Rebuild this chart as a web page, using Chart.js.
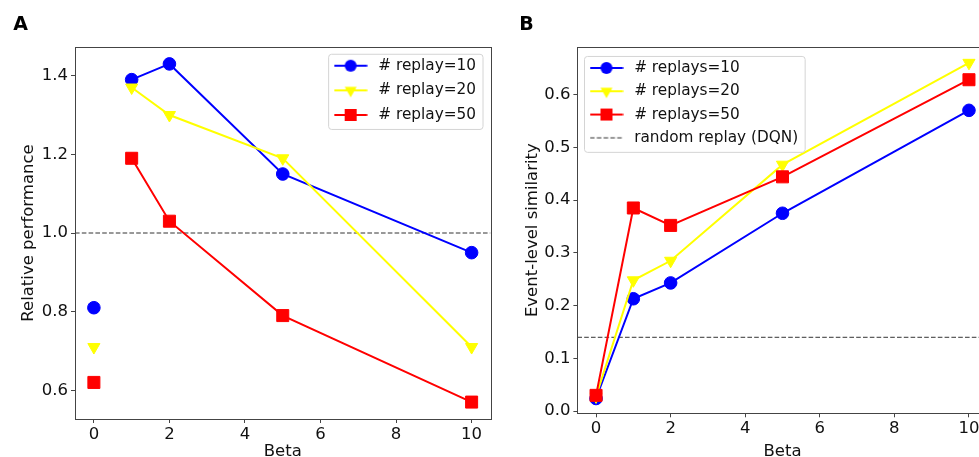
<!DOCTYPE html>
<html>
<head>
<meta charset="utf-8">
<script src="https://cdn.jsdelivr.net/npm/chart.js@4.4.1/dist/chart.umd.min.js"></script>
<style>
  html, body { margin: 0; padding: 0; background: #fff; overflow: hidden; width: 979px; height: 457px; }
  canvas { position: absolute; top: 0; }
  #chartA { left: 0; }
  #chartB { left: 490px; }
</style>
</head>
<body>
<canvas id="chartA" width="500" height="470"></canvas>
<canvas id="chartB" width="520" height="470"></canvas>
<script>
// beta values shared by both panels
const betas = [0, 1, 2, 5, 10];
const betaTicks = [0, 2, 4, 6, 8, 10];

// panel A: relative performance
const perfReplay10 = [0.81, 1.39, 1.43, 1.15, 0.95];
const perfReplay20 = [0.71, 1.37, 1.30, 1.19, 0.71];
const perfReplay50 = [0.62, 1.19, 1.03, 0.79, 0.57];
const perfBaseline = 1.0;
const perfTicks = [0.6, 0.8, 1.0, 1.2, 1.4];
// in panel A the beta = 0 points stand alone, lines start at beta = 1
const joinFromA = 1;

// panel B: event-level similarity
const simReplays10 = [0.024, 0.213, 0.243, 0.375, 0.57];
const simReplays20 = [0.028, 0.248, 0.285, 0.467, 0.66];
const simReplays50 = [0.030, 0.385, 0.352, 0.444, 0.628];
const simRandomDQN = 0.14;
const simTicks = [0.0, 0.1, 0.2, 0.3, 0.4, 0.5, 0.6];

// axis limits
const betaRange = [-0.5, 10.5];
const perfRange = [0.527, 1.473];
const simRange = [-0.004, 0.69];

const BLUE = '#0000ff', YELLOW = '#ffff00', RED = '#ff0000', DASH = '#333333';
const FONT = 'DejaVu Sans';

Chart.defaults.font.family = FONT;
Chart.defaults.color = '#111';

const MARKERS = {
  circle:   { style: 'circle',   radius: 6.3, rotation: 0 },
  triangle: { style: 'triangle', radius: 7,   rotation: 180 },
  square:   { style: 'rect',     radius: 8.5, rotation: 0 },
};

// small line + marker picture for the legend (matplotlib style handle)
function legendIcon(color, marker, dashed) {
  const c = document.createElement('canvas');
  c.width = 34; c.height = 16;
  const g = c.getContext('2d');
  g.strokeStyle = color;
  g.fillStyle = color;
  g.lineWidth = dashed ? 1 : 2;
  if (dashed) g.setLineDash([4.6, 2.2]);
  g.beginPath(); g.moveTo(0.5, 8); g.lineTo(33.5, 8); g.stroke();
  g.setLineDash([]);
  g.beginPath();
  if (marker === 'circle') g.arc(17, 8, 6, 0, Math.PI * 2);
  else if (marker === 'triangle') { g.moveTo(11, 4.5); g.lineTo(23, 4.5); g.lineTo(17, 15); g.closePath(); }
  else if (marker === 'square') g.rect(11, 2, 12, 12);
  if (marker) g.fill();
  return c;
}

function seriesSet(label, ys, color, marker, order, segment) {
  const m = MARKERS[marker];
  return {
    label, order,
    data: betas.map((b, i) => ({ x: b, y: ys[i] })),
    borderColor: color,
    backgroundColor: color,
    borderWidth: 2,
    tension: 0,
    fill: false,
    pointStyle: m.style,
    pointRotation: m.rotation,
    pointRadius: m.radius,
    pointHoverRadius: m.radius,
    pointBorderWidth: 1,
    pointBorderColor: color,
    pointBackgroundColor: color,
    segment,
    legendIcon: legendIcon(color, marker, false),
  };
}

function baselineSet(label, value, inLegend) {
  return {
    label, order: 4,
    data: betaRange.map(b => ({ x: b, y: value })),
    borderColor: DASH,
    borderWidth: 1,
    borderDash: [4.6, 2.2],
    pointRadius: 0,
    pointHoverRadius: 0,
    fill: false,
    legendIcon: inLegend ? legendIcon(DASH, null, true) : null,
  };
}

// moves the chartArea legend to its corner, draws its frame and the axes box
const panelFrame = {
  id: 'panelFrame',
  beforeLayout(chart) {
    const lg = chart.legend;
    if (lg && !lg._lifted) {
      lg._layers = () => [{ z: 1, draw: (area) => lg.draw(area) }];
      lg._lifted = true;
    }
  },
  afterLayout(chart, args, opts) {
    const lg = chart.legend, a = chart.chartArea;
    const pad = lg.options.labels.padding;
    const colW = lg.columnSizes[0].width;
    const itemsX = opts.anchor === 'right' ? a.right - opts.dx - 7 - colW : a.left + opts.dx;
    lg.left = itemsX - pad;
    lg.top = a.top + opts.dy;
  },
  afterDatasetsDraw(chart) {
    const { ctx, chartArea: a } = chart;
    const lg = chart.legend;
    const pad = lg.options.labels.padding;
    const fs = lg.options.labels.font.size;
    const n = lg.legendItems.length;
    const itemsX = lg.left + pad;
    const c0 = lg.top + pad + fs / 2;
    const cN = c0 + (n - 1) * (fs + pad);
    const fx = itemsX - 2, fy = c0 - 11.5;
    const fw = lg.columnSizes[0].width + 9, fh = cN + 14.5 - fy;
    ctx.save();
    ctx.beginPath();
    if (ctx.roundRect) ctx.roundRect(fx, fy, fw, fh, 3); else ctx.rect(fx, fy, fw, fh);
    ctx.fillStyle = 'rgba(255,255,255,0.8)';
    ctx.fill();
    ctx.strokeStyle = '#d4d4d4';
    ctx.lineWidth = 1;
    ctx.stroke();
    ctx.strokeStyle = '#444';
    ctx.strokeRect(Math.round(a.left) + 0.5, Math.round(a.top) + 0.5,
      Math.round(a.right) - Math.round(a.left), Math.round(a.bottom) - Math.round(a.top));
    ctx.restore();
  }
};

function panelOptions(cfg) {
  const tickFont = { size: 16.5 };
  const grid = { display: true, drawOnChartArea: false, drawTicks: true, tickLength: 4, color: '#444' };
  return {
    responsive: false,
    animation: false,
    events: [],
    layout: { padding: cfg.padding },
    plugins: {
      title: {
        display: true, text: cfg.panel, align: 'start', color: '#000',
        font: { size: 19, weight: 'bold', lineHeight: 1 },
        padding: { top: 15.5, bottom: 12.5 }
      },
      legend: {
        position: 'chartArea',
        align: 'start',
        labels: {
          usePointStyle: true,
          pointStyleWidth: 40,
          boxHeight: 15.3,
          padding: cfg.legendPad,
          color: '#111',
          font: { size: 15.3 },
          generateLabels(chart) {
            const items = Chart.defaults.plugins.legend.labels.generateLabels(chart);
            return items
              .filter(it => chart.data.datasets[it.datasetIndex].legendIcon)
              .sort((p, q) => p.datasetIndex - q.datasetIndex)
              .map(it => Object.assign(it, {
                pointStyle: chart.data.datasets[it.datasetIndex].legendIcon,
                rotation: 0
              }));
          }
        }
      },
      tooltip: { enabled: false },
      panelFrame: cfg.legendPlace
    },
    scales: {
      x: {
        type: 'linear',
        min: betaRange[0], max: betaRange[1],
        afterFit: s => { s.height = cfg.xAxisHeight; },
        afterBuildTicks: s => { s.ticks = betaTicks.map(value => ({ value })); },
        ticks: { font: tickFont, color: '#111', padding: 2, maxRotation: 0, callback: v => String(v) },
        grid, border: { display: false },
        title: { display: true, text: 'Beta', color: '#111', font: { size: 16.5, lineHeight: 1 }, padding: { top: 0, bottom: 9.75 } }
      },
      y: {
        type: 'linear',
        min: cfg.yRange[0], max: cfg.yRange[1],
        afterFit: s => { s.width = cfg.yAxisWidth; },
        afterBuildTicks: s => { s.ticks = cfg.yTicks.map(value => ({ value })); },
        ticks: { font: tickFont, color: '#111', padding: 3, callback: v => v.toFixed(1) },
        grid, border: { display: false },
        title: { display: true, text: cfg.yTitle, color: '#111', font: { size: 16.5, lineHeight: 1 }, padding: { top: cfg.yTitlePad, bottom: 0 } }
      }
    }
  };
}

const hideFirstA = { borderColor: c => (c.p0.parsed.x < joinFromA ? 'rgba(0,0,0,0)' : undefined) };

new Chart(document.getElementById('chartA'), {
  type: 'line',
  data: {
    datasets: [
      seriesSet('# replay=10', perfReplay10, BLUE, 'circle', 3, hideFirstA),
      seriesSet('# replay=20', perfReplay20, YELLOW, 'triangle', 2, hideFirstA),
      seriesSet('# replay=50', perfReplay50, RED, 'square', 1, hideFirstA),
      baselineSet('baseline', perfBaseline, false),
    ]
  },
  options: panelOptions({
    panel: 'A',
    padding: { left: 13.3, right: 9.2, top: 0, bottom: 0 },
    xAxisHeight: 51,
    yAxisWidth: 61.7,
    yRange: perfRange,
    yTicks: perfTicks,
    yTitle: 'Relative performance',
    yTitlePad: 6.95,
    legendPad: 9.3,
    legendPlace: { anchor: 'right', dx: 7.5, dy: 1.8 }
  }),
  plugins: [panelFrame]
});

new Chart(document.getElementById('chartB'), {
  type: 'line',
  data: {
    datasets: [
      seriesSet('# replays=10', simReplays10, BLUE, 'circle', 3),
      seriesSet('# replays=20', simReplays20, YELLOW, 'triangle', 2),
      seriesSet('# replays=50', simReplays50, RED, 'square', 1),
      baselineSet('random replay (DQN)', simRandomDQN, true),
    ]
  },
  options: panelOptions({
    panel: 'B',
    padding: { left: 29.3, right: 22.4, top: 0, bottom: 0 },
    xAxisHeight: 56.7,
    yAxisWidth: 58.1,
    yRange: simRange,
    yTicks: simTicks,
    yTitle: 'Event-level similarity',
    yTitlePad: 5.45,
    legendPad: 8,
    legendPlace: { anchor: 'left', dx: 9.1, dy: 5.3 }
  }),
  plugins: [panelFrame]
});
</script>
</body>
</html>
